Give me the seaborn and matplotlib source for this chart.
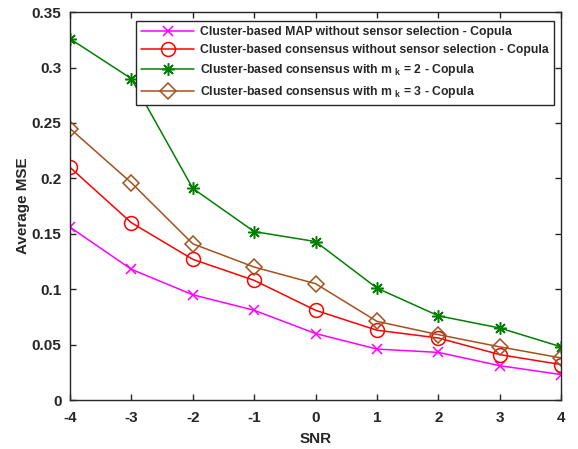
import numpy as np
import pandas as pd
import matplotlib
matplotlib.use("Agg")
import matplotlib.pyplot as plt
import seaborn as sns

snr = [-4, -3, -2, -1, 0, 1, 2, 3, 4]
map_no_sel = [0.156, 0.118, 0.095, 0.081, 0.060, 0.046, 0.043, 0.031, 0.023]
cons_no_sel = [0.210, 0.160, 0.127, 0.108, 0.081, 0.063, 0.056, 0.041, 0.032]
cons_mk2 = [0.326, 0.290, 0.191, 0.152, 0.143, 0.101, 0.076, 0.065, 0.048]
cons_mk3 = [0.245, 0.196, 0.141, 0.120, 0.105, 0.071, 0.059, 0.048, 0.038]

labels = [
    "Cluster-based MAP without sensor selection - Copula",
    "Cluster-based consensus without sensor selection - Copula",
    r"Cluster-based consensus with m $_{\mathrm{k}}$ = 2 - Copula",
    r"Cluster-based consensus with m $_{\mathrm{k}}$ = 3 - Copula",
]

sns.set_style("ticks")
plt.rcParams["font.family"] = ["Liberation Sans", "DejaVu Sans"]
plt.rcParams["font.weight"] = "bold"
plt.rcParams["axes.unicode_minus"] = False
plt.rcParams["mathtext.fontset"] = "custom"
plt.rcParams["mathtext.rm"] = "Liberation Sans:bold"
plt.rcParams["mathtext.it"] = "Liberation Sans:bold"
plt.rcParams["mathtext.bf"] = "Liberation Sans:bold"

fig = plt.figure(figsize=(5.78, 4.49), dpi=100)
ax = fig.add_axes([0.121, 0.109, 0.850, 0.864])

series = [
    (map_no_sel, "#ff00ff", "x", 7, "full"),
    (cons_no_sel, "#ff0000", "o", 10, "none"),
    (cons_mk2, "#008000", (8, 2, 0), 9, "full"),
    (cons_mk3, "#a5511e", "D", 8, "none"),
]
for (vals, color, marker, ms, fill), lab in zip(series, labels):
    df = pd.DataFrame({"SNR": snr, "MSE": vals})
    sns.lineplot(data=df, x="SNR", y="MSE", ax=ax, color=color, marker=marker,
                 markersize=ms, fillstyle=fill, markeredgecolor=color,
                 markerfacecolor="none" if fill == "none" else color,
                 markeredgewidth=1.1, linewidth=1.1, label=lab)

ax.set_xlim(-4, 4)
ax.set_ylim(0, 0.35)
ax.set_xticks(snr)
ax.set_yticks([0, 0.05, 0.1, 0.15, 0.2, 0.25, 0.3, 0.35])
ax.set_yticklabels(["0", "0.05", "0.1", "0.15", "0.2", "0.25", "0.3", "0.35"])
ax.tick_params(direction="in", top=True, right=True, length=4, width=1,
               labelsize=11, colors="#262626")
ax.tick_params(axis="x", pad=8)
ax.tick_params(axis="y", pad=6)
for lab in ax.get_xticklabels() + ax.get_yticklabels():
    lab.set_fontweight("bold")
for sp in ax.spines.values():
    sp.set_color("#262626")
    sp.set_linewidth(1)
ax.set_xlabel("SNR", fontsize=11, fontweight="bold", color="#262626", labelpad=5)
ax.set_ylabel("Average MSE", fontsize=11, fontweight="bold", color="#262626", labelpad=1)

leg = ax.legend(loc="upper right", bbox_to_anchor=(0.997, 0.993), fontsize=8.8,
                handlelength=4.3, numpoints=1, fancybox=False, framealpha=1,
                borderpad=0.4, labelspacing=0.5, handletextpad=0.5)
leg.get_frame().set_edgecolor("#262626")
leg.get_frame().set_linewidth(1)
for t in leg.get_texts():
    t.set_fontweight("bold")

fig.savefig("out.png", dpi=100)
